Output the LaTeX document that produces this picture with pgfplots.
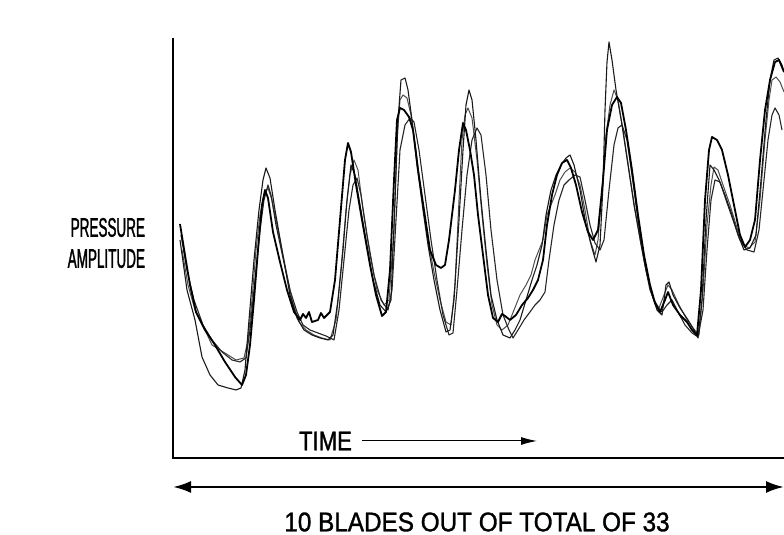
\documentclass[border=0pt]{standalone}
\usepackage{fontspec}
\setmainfont{Liberation Sans}
\newfontfamily\narrowfont[FakeStretch=0.5,FakeBold=1.2]{Liberation Sans}
\newfontfamily\timefont[FakeStretch=0.82,FakeBold=1.2]{Liberation Sans}
\newfontfamily\labelfont[FakeStretch=0.9,FakeBold=1.2]{Liberation Sans}
\usepackage{pgfplots}
\pgfplotsset{compat=1.18}
\usetikzlibrary{arrows.meta}

% four overlaid pressure traces in pixel units (y grows downwards)
\pgfplotstableread{
x y
180 224
185 255
190 285
196 312
205 330
215 345
225 362
235 377
242 385
246 375
250 345
254 300
258 250
262 205
265 190
268 198
273 232
280 262
287 290
294 312
300 320
303 314
306 318
309 312
312 322
318 320
321 313
324 318
330 312
335 280
340 220
345 160
348 143
351 152
356 185
362 220
370 265
376 295
382 316
386 312
390 270
394 180
397 120
400 108
404 110
409 117
413 130
418 170
424 210
430 250
436 265
441 268
445 265
449 240
455 190
459 150
463 123
466 130
470 150
474 175
478 215
483 255
488 295
493 318
498 322
502 314
505 316
510 320
516 315
522 305
528 298
533 290
538 280
543 260
547 225
552 195
557 175
562 163
567 160
571 168
576 185
582 212
588 232
593 240
598 230
603 180
607 130
612 105
617 97
621 103
626 130
632 170
638 215
644 255
650 285
655 303
660 312
665 300
668 292
673 305
680 315
687 322
692 330
697 335
701 290
705 200
709 150
712 137
717 140
722 150
728 175
735 210
740 235
745 247
750 240
755 220
760 160
765 110
770 80
775 62
779 60
784 72
}\traceA

\pgfplotstableread{
x y
180 240
187 290
195 320
202 357
210 375
218 385
228 388
236 390
241 388
245 370
249 320
254 260
259 210
263 180
266 168
270 178
275 210
282 250
290 295
297 318
304 330
312 335
320 338
328 340
333 335
338 300
343 250
347 200
351 165
355 175
360 205
366 240
373 280
380 305
386 312
391 300
395 200
398 120
401 80
405 78
408 90
412 120
417 165
423 210
428 245
434 280
440 310
446 332
450 330
454 300
459 220
463 150
466 105
469 90
472 100
476 140
481 200
486 250
491 295
497 320
503 335
510 338
515 330
520 320
526 300
532 280
537 265
542 245
546 215
551 190
556 175
561 165
566 158
570 155
574 165
580 190
586 225
592 248
596 262
600 245
603 185
605 110
607 62
609 42
612 60
616 90
622 125
628 165
634 205
640 238
646 270
652 295
657 310
662 315
666 285
669 282
673 295
680 308
688 320
694 330
698 338
702 300
706 220
710 165
714 170
719 180
725 195
732 215
738 235
744 250
750 248
756 235
761 180
766 120
770 80
774 60
778 58
782 65
784 72
}\traceB

\pgfplotstableread{
x y
181 235
187 270
194 300
203 325
212 340
222 352
232 360
240 362
246 358
250 330
255 280
260 230
264 200
268 185
271 195
276 225
283 258
290 290
297 312
303 325
310 330
318 333
326 336
334 340
339 310
344 260
349 210
353 185
357 178
361 195
367 235
374 275
381 300
388 310
392 290
396 220
400 150
405 125
410 118
414 122
419 150
425 195
431 240
437 280
443 315
449 335
453 333
457 290
462 230
467 175
472 140
477 128
481 135
486 175
491 230
497 280
503 315
509 330
513 338
518 330
524 320
530 312
535 305
540 300
545 292
549 260
554 225
559 200
564 185
569 180
575 175
580 177
585 200
590 225
595 243
600 250
604 240
609 190
614 145
618 128
622 125
627 140
632 175
638 220
644 260
650 290
656 305
662 312
667 305
672 300
678 312
685 325
692 333
698 337
703 310
707 250
711 200
715 180
720 182
726 200
733 220
740 240
747 250
754 252
759 230
764 180
768 140
772 115
775 108
779 115
782 130
}\traceC

\pgfplotstableread{
x y
182 250
188 285
195 310
205 330
212 345
220 350
228 355
236 360
244 358
248 340
252 300
256 250
260 215
264 195
268 188
272 200
278 230
285 265
292 300
299 322
306 330
314 335
322 338
330 340
336 320
341 270
346 210
350 175
354 160
358 170
363 210
370 255
377 290
384 305
389 300
394 230
397 140
400 100
403 95
407 98
411 115
416 150
422 200
428 240
434 272
440 300
446 322
451 325
455 285
459 200
462 140
465 115
468 108
472 118
477 160
482 215
487 265
492 305
497 325
502 330
508 325
514 310
520 295
526 285
531 275
535 260
539 250
543 240
547 215
551 205
555 195
560 180
565 172
570 168
575 172
580 185
585 210
590 240
595 255
598 240
602 190
606 135
610 105
614 90
618 100
623 130
629 170
635 210
641 245
647 275
653 298
659 308
664 295
668 285
672 290
679 305
686 318
693 328
699 335
703 290
707 225
711 185
714 167
718 170
723 185
730 205
737 228
743 245
749 248
755 242
760 200
765 140
769 100
772 80
776 77
780 82
784 92
}\traceD

\begin{document}
\begin{tikzpicture}
\begin{axis}[
    scale only axis,
    width=306bp, height=210bp,
    xmin=172, xmax=784,
    ymin=38, ymax=458,
    y dir=reverse,
    hide axis,
    clip=false,
]
\addplot[black!70, line width=0.5bp, line join=round] table {\traceD};
\addplot[black!85, line width=0.55bp, line join=round] table {\traceC};
\addplot[black!90, line width=0.55bp, line join=round] table {\traceB};
\addplot[black, line width=0.9bp, line join=round] table {\traceA};

% frame: vertical and horizontal axis lines
\draw[line width=1.2bp] (axis cs:173,38) -- (axis cs:173,458) -- (axis cs:784,458);

\node[anchor=east, align=right, font=\narrowfont\fontsize{13.5bp}{15.5bp}\selectfont]
    at (axis cs:152,243) {PRESSURE\\AMPLITUDE};

\node[anchor=west, font=\timefont\fontsize{13.5bp}{15bp}\selectfont] at (axis cs:292,441) {TIME};
\draw[line width=0.5bp, -{Latex[length=8bp,width=4bp]}] (axis cs:362,441) -- (axis cs:537,441);

\draw[line width=1.2bp, {Latex[length=9bp,width=6bp]}-{Latex[length=9bp,width=6bp]}]
    (axis cs:173,487) -- (axis cs:784,487);
\node[font=\labelfont\fontsize{13.5bp}{15bp}\selectfont] at (axis cs:477,522)
    {10 BLADES OUT OF TOTAL OF 33};

\coordinate (BL) at (axis cs:0,535);
\coordinate (TR) at (axis cs:784,0);
\end{axis}
\pgfresetboundingbox
\path[use as bounding box] (BL) rectangle (TR);
\end{tikzpicture}
\end{document}
